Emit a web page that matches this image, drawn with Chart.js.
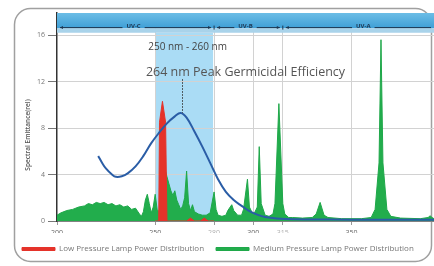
<!DOCTYPE html>
<html><head><meta charset="utf-8">
<script src="https://cdn.jsdelivr.net/npm/chart.js@4.4.1/dist/chart.umd.min.js"></script>
<style>html,body{margin:0;padding:0;background:#fff;}canvas{display:block;}</style>
</head><body>
<canvas id="c" width="434" height="266"></canvas>
<script>
// ---- data ----
const xTicks = [200, 250, 280, 300, 315, 350];
const lightTicks = [280, 315];
const yTicks = [0, 4, 8, 12, 16];

const curveNm  = [221,223,225,228,230,233,236,240,244,248,252,256,260,263,266,270,274,278,282,286,290,294,298,302,306,312,320,340,360,392];
const curveVal = [5.6,5.0,4.5,4.0,3.8,3.85,4.1,4.7,5.6,6.7,7.6,8.4,9.0,9.3,8.9,7.7,6.4,5.0,3.6,2.5,1.8,1.3,0.85,0.55,0.35,0.22,0.15,0.12,0.1,0.1];

const lowNm  = [250,251.8,252.2,253.7,255.3,256,266,268,270,273,275,277,280];
const lowVal = [0,0,8.5,10.3,8.5,0,0,0.25,0,0,0.25,0,0];

const medNm  = [200,202,205,208,211,214,216,218,220,222,224,226,228,230,232,234,236,238,240,242,243,244,245,246,247,248,249,250,251,252,254,255,256,257,258,259,260,261,262,263,264,265,266,267,268,269,270,272,274,276,278,280,281,282,284,286,287,289,290,292,294,295,297,298,300,302,303,304,306,308,310,311,313,315,316,318,320,325,330,332,334,336,338,345,355,360,362,364,365,366,368,370,375,385,389,390,391,392];
const medVal = [0.5,0.7,0.9,1.0,1.2,1.3,1.5,1.4,1.6,1.5,1.6,1.4,1.5,1.3,1.4,1.2,1.3,1.0,1.1,0.6,0.4,0.8,1.8,2.3,1.5,0.7,1.2,2.3,1.0,0.8,3.5,4.5,3.8,3.2,2.6,2.2,2.6,1.8,1.4,1.0,1.3,2.0,4.3,1.5,0.9,1.4,0.8,0.6,0.5,0.5,0.7,2.5,1.0,0.5,0.4,0.5,0.9,1.4,0.9,0.5,0.5,1.0,3.6,1.2,0.5,1.2,6.4,1.5,0.5,0.4,0.6,1.5,10.1,1.5,0.6,0.3,0.3,0.25,0.3,0.6,1.6,0.5,0.3,0.2,0.2,0.3,1.0,5.0,15.6,5.0,1.0,0.4,0.25,0.2,0.3,0.45,0.3,0.2];

const seriesNames = ['Germicidal Efficiency', 'Low Pressure Lamp Power Distribution', 'Medium Pressure Lamp Power Distribution'];
const yTitle = 'Spectral Emittance(rel)';
const highlightRange = [250, 279.5];
const highlightLabel = '250 nm - 260 nm';
const peakNm = 263.5, peakVal = 9.3;
const peakLabel = '264 nm Peak Germicidal Efficiency';
const uvBands = [
  {label:'UV-C', from:200, to:280, at:239},
  {label:'UV-B', from:280, to:315, at:296},
  {label:'UV-A', from:315, to:392, at:356}
];

const zip = (a,b) => a.map((v,i)=>({x:v, y:b[i]}));

const decor = {
  id:'decor',
  beforeDraw(chart){
    const {ctx, chartArea:a, scales:{x,y}} = chart;
    ctx.save();
    ctx.fillStyle = '#fff';
    ctx.fillRect(0,0,chart.width,chart.height);
    ctx.strokeStyle = '#a0a0a0';
    ctx.lineWidth = 1.5;
    ctx.beginPath();
    ctx.roundRect(14.5, 8.5, 417, 253, 16);
    ctx.stroke();
    ctx.fillStyle = '#aadcf5';
    const x0 = x.getPixelForValue(highlightRange[0]), x1 = x.getPixelForValue(highlightRange[1]);
    const yt = y.getPixelForValue(16.2);
    ctx.fillRect(x0, yt, x1-x0, a.bottom-yt);
    ctx.restore();
  },
  afterDraw(chart){
    const {ctx, chartArea:a, scales:{x,y}} = chart;
    ctx.save();
    const top = a.top, lineY = y.getPixelForValue(16.6), bot = y.getPixelForValue(16.2);
    const g = ctx.createLinearGradient(0, top, 0, lineY);
    g.addColorStop(0, '#6cbde6'); g.addColorStop(1, '#3f9fd6');
    ctx.fillStyle = g;
    ctx.fillRect(a.left, top, a.right-a.left, lineY-top);
    ctx.fillStyle = '#a9d3ea';
    ctx.fillRect(a.left, lineY, a.right-a.left, bot-lineY);
    ctx.font = 'bold 6px "Open Sans"';
    ctx.textAlign = 'center'; ctx.textBaseline = 'middle';
    ctx.strokeStyle = '#1c3550'; ctx.lineWidth = 1;
    const ly = lineY - 0.5;
    uvBands.forEach(b=>{
      const bx0 = x.getPixelForValue(b.from)+3, bx1 = Math.min(x.getPixelForValue(b.to)-3, a.right);
      const cx = x.getPixelForValue(b.at);
      const tw = ctx.measureText(b.label).width/2 + 4;
      ctx.beginPath();
      ctx.moveTo(bx0, ly); ctx.lineTo(cx-tw, ly);
      ctx.moveTo(cx+tw, ly); ctx.lineTo(bx1, ly);
      ctx.stroke();
      ctx.fillStyle = '#1c3550';
      ctx.beginPath(); ctx.moveTo(bx0, ly); ctx.lineTo(bx0+3, ly-1.5); ctx.lineTo(bx0+3, ly+1.5); ctx.fill();
      if (b.to < 392) { ctx.beginPath(); ctx.moveTo(bx1, ly); ctx.lineTo(bx1-3, ly-1.5); ctx.lineTo(bx1-3, ly+1.5); ctx.fill(); }
      ctx.fillText(b.label, cx, ly-1);
    });
    [280,315].forEach(v=>{
      const bx = x.getPixelForValue(v);
      ctx.beginPath(); ctx.moveTo(bx, ly-2); ctx.lineTo(bx, ly+2); ctx.stroke();
    });
    ctx.fillStyle = '#444';
    ctx.font = '10px "Open Sans"';
    ctx.fillText(highlightLabel, x.getPixelForValue(266.5), y.getPixelForValue(14.95));
    ctx.fillStyle = '#555';
    ctx.font = '12.5px "Open Sans"';
    ctx.fillText(peakLabel, x.getPixelForValue(296), y.getPixelForValue(12.75));
    ctx.strokeStyle = '#333'; ctx.lineWidth = 1; ctx.setLineDash([1.5,1.5]);
    const px = Math.round(x.getPixelForValue(peakNm))+0.5;
    ctx.beginPath(); ctx.moveTo(px, y.getPixelForValue(12.2)); ctx.lineTo(px, y.getPixelForValue(peakVal)); ctx.stroke();
    ctx.setLineDash([]);
    ctx.translate(28, 135); ctx.rotate(-Math.PI/2);
    ctx.fillStyle = '#555'; ctx.font = '600 6.5px "Open Sans"';
    ctx.fillText(yTitle, 0, 0);
    ctx.restore();
  }
};

new Chart(document.getElementById('c'), {
  type:'line',
  data:{
    datasets:[
      {label:seriesNames[0], data:zip(curveNm,curveVal), borderColor:'#2a5da6', backgroundColor:'#2a5da6', borderWidth:2, pointRadius:0, tension:0.4, fill:false, order:0},
      {label:seriesNames[1], data:zip(lowNm,lowVal), borderColor:'#e5332a', backgroundColor:'#e5332a', borderWidth:1, pointRadius:0, tension:0, fill:'origin', order:1},
      {label:seriesNames[2], data:zip(medNm,medVal), borderColor:'#1fa84a', backgroundColor:'#22ad4c', borderWidth:1, pointRadius:0, tension:0, fill:'origin', order:2}
    ]
  },
  options:{
    responsive:false, animation:false, devicePixelRatio:1,
    layout:{padding:{left:10, top:13, right:0, bottom:3}},
    plugins:{
      legend:{
        position:'bottom', align:'start',
        labels:{boxWidth:33, boxHeight:3, padding:12, color:'#777', font:{size:8, family:'"Open Sans"'},
          filter:(item)=>item.datasetIndex!==0}
      },
      tooltip:{enabled:false}
    },
    scales:{
      x:{type:'linear', min:200, max:392,
        afterBuildTicks:s=>{s.ticks = xTicks.map(v=>({value:v}));},
        afterFit:s=>{s.height = 12;},
        ticks:{autoSkip:false, maxRotation:0, padding:4, font:{size:7, family:'"Open Sans"'},
          color:c=>lightTicks.includes(c.tick.value)?'#b0b0b0':'#666'},
        grid:{color:c=>c.tick.value===200?'rgba(0,0,0,0)':'#d2d2d2', tickLength:4, tickColor:'#999'},
        border:{color:'#333', width:1.5}
      },
      y:{min:0, max:17.9,
        afterBuildTicks:s=>{s.ticks = yTicks.map(v=>({value:v}));},
        afterFit:s=>{s.width = 47;},
        ticks:{padding:3, font:{size:7, family:'"Open Sans"'}, color:'#777'},
        grid:{color:'#d2d2d2', tickLength:9, tickColor:'#777'},
        border:{color:'#333', width:1.5}
      }
    }
  },
  plugins:[decor]
});
</script>
</body></html>
